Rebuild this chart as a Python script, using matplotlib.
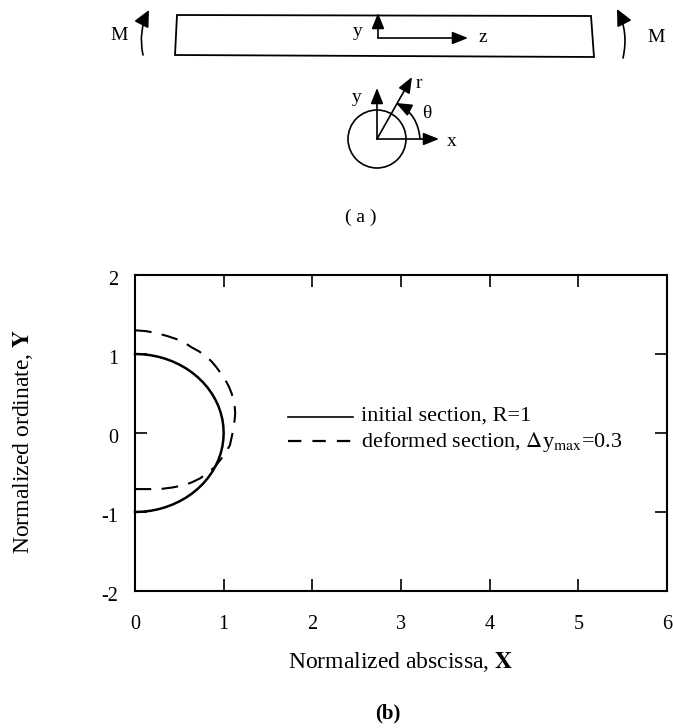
import matplotlib
matplotlib.use("Agg")
import matplotlib.pyplot as plt
from matplotlib.patches import Circle, Polygon, FancyArrowPatch
from matplotlib.transforms import ScaledTranslation

plt.rcParams['font.family'] = ['Liberation Serif', 'DejaVu Serif']
plt.rcParams['mathtext.fontset'] = 'stix'

W, H = 673, 728
FS_TICK = 14.5
FS_LABEL = 17
FS_LEG = 16

# --- data ---
x_ticks = [0, 1, 2, 3, 4, 5, 6]
y_ticks = [-2, -1, 0, 1, 2]
x_ticklabels = ['0', '1', '2', '3', '4', '5', '6']
y_ticklabels = ['-2', '-1', '0', '1', '2']
initial_x = [0, .087, .174, .259, .342, .423, .5, .574, .643, .707, .766, .819, .866, .906, .94, .966, .985, .996, 1,
             .996, .985, .966, .94, .906, .866, .819, .766, .707, .643, .574, .5, .423, .342, .259, .174, .087, 0]
initial_y = [1, .996, .985, .966, .94, .906, .866, .819, .766, .707, .643, .574, .5, .423, .342, .259, .174, .087, 0,
             -.087, -.174, -.259, -.342, -.423, -.5, -.574, -.643, -.707, -.766, -.819, -.866, -.906, -.94, -.966, -.985, -.996, -1]
deformed_x = [0, .12, .245, .37, .49, .57, .64, .72, .79, .86, .92, .97, 1.02, 1.06, 1.09, 1.11, 1.125, 1.13, 1.125, 1.11, 1.07, 1.0, .9, .82, .735, .65, .565, .42, .28, .14, 0]
deformed_y = [1.3, 1.29, 1.265, 1.225, 1.18, 1.135, 1.083, 1.035, .977, .91, .83, .75, .67, .585, .5, .415, .33, .25, .18, .05, -.157, -.285, -.43, -.505, -.573, -.62, -.658, -.69, -.71, -.71, -.71]
legend_labels = ['initial section, R=1', r'deformed section, $\Delta$y$_{\mathrm{max}}$=0.3']

# --- figure ---
fig = plt.figure(figsize=(W / 100, H / 100), dpi=100)
L, R, T, B = 135, 667, 275, 591
ax = fig.add_axes([L / W, 1 - B / H, (R - L) / W, (B - T) / H])
ax.set_xlim(0, 6)
ax.set_ylim(-2, 2)
ax.set_xticks(x_ticks, x_ticklabels)
ax.set_yticks(y_ticks, y_ticklabels)
ax.tick_params(direction='in', top=True, right=True, length=8.5, width=1.2, labelsize=FS_TICK)
ax.tick_params(axis='x', pad=17)
ax.tick_params(axis='y', pad=12)
down = ScaledTranslation(0, -3 / 100, fig.dpi_scale_trans)
for lab in ax.get_yticklabels():
    lab.set_transform(lab.get_transform() + down)
for s in ax.spines.values():
    s.set_linewidth(1.5)
ax.set_xlabel(r'Normalized abscissa, $\mathbf{X}$', fontsize=FS_LABEL, va='center')
ax.set_ylabel(r'Normalized ordinate, $\mathbf{Y}$', fontsize=FS_LABEL, va='center')
ax.xaxis.set_label_coords(.5, (B - 662) / (B - T))
ax.yaxis.set_label_coords((23 - L) / (R - L), (B - 441) / (B - T))

ax.plot(initial_x, initial_y, color='black', lw=1.8, clip_on=False)
ax.plot(deformed_x, deformed_y, color='black', lw=1.5, dashes=(8, 5))

# legend, placed by hand to match the source
ax.plot([1.73, 2.46], [.2, .2], color='black', lw=1.2)
ax.plot([1.73, 2.46], [-.105, -.105], color='black', lw=1.6, dashes=(6, 5))
ax.text(2.55, .21, legend_labels[0], fontsize=FS_LEG, va='center', ha='left')
ax.text(2.55, -.11, legend_labels[1], fontsize=FS_LEG, va='center', ha='left')

# --- schematic (a), in pixel coordinates ---
ov = fig.add_axes([0, 0, 1, 1], facecolor='none')
ov.set_xlim(0, W)
ov.set_ylim(H, 0)
ov.axis('off')

ov.add_patch(Polygon([(177, 15), (591, 16), (594, 57), (175, 55)], closed=True,
                     fill=False, ec='black', lw=1.3))


def arrow(p0, p1, lw=1.2, rad=None, hl=.95, hw=.38):
    cs = f'arc3,rad={rad}' if rad is not None else 'arc3'
    ov.add_patch(FancyArrowPatch(p0, p1, arrowstyle=f'-|>,head_length={hl},head_width={hw}',
                                 mutation_scale=10, lw=lw, color='black', shrinkA=0, shrinkB=0,
                                 connectionstyle=cs))


arrow((378, 38), (378, 13))
arrow((378, 38), (468, 38))
arrow((143, 55), (149, 10), rad=-.18, hl=1.0, hw=.48)
arrow((623, 58), (617, 9), rad=.18, hl=1.0, hw=.48)
ov.add_patch(Circle((377, 139), 29, fill=False, ec='black', lw=1.2))
arrow((377, 139), (377, 88))
arrow((377, 139), (439, 139))
arrow((377, 139), (412, 77))
arrow((420, 139), (396, 103), rad=.28)

for px, py, s in [(119, 36, 'M'), (656, 37, 'M'), (358, 31, 'y'), (483, 37, 'z'),
                  (357, 97, 'y'), (419, 84, 'r'), (452, 142, 'x'),
                  (427, 114, '\u03b8'), (361, 217, '( a )')]:
    ov.text(px, py, s, fontsize=14, ha='center', va='center')
ov.text(388, 713, '(b)', fontsize=15, fontweight='bold', ha='center', va='center')

fig.savefig('out.png', dpi=100)
